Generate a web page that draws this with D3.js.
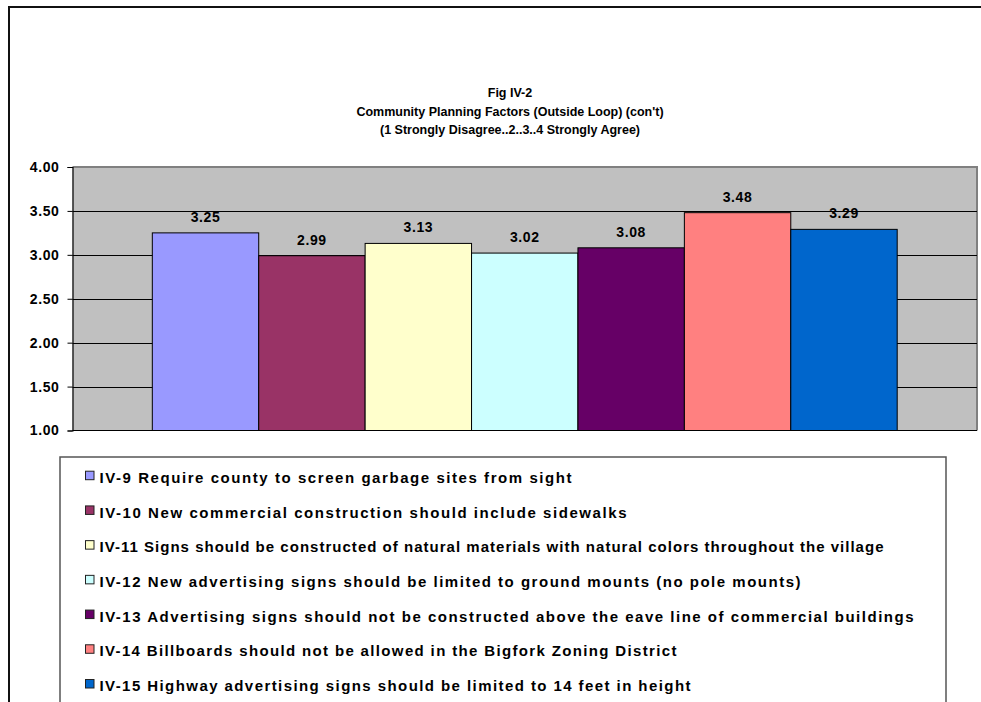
<!DOCTYPE html>
<html><head><meta charset="utf-8">
<script src="https://cdn.jsdelivr.net/npm/d3@7"></script>
<style>body{margin:0;background:#fff;}svg{display:block;font-family:"Liberation Sans",Arial,sans-serif;}</style>
</head><body>
<script>
const categories = ["IV-9","IV-10","IV-11","IV-12","IV-13","IV-14","IV-15"];
const values = [3.25, 2.99, 3.13, 3.02, 3.08, 3.48, 3.29];
const legendLabels = [
  "IV-9 Require county to screen garbage sites from sight",
  "IV-10 New commercial construction should include sidewalks",
  "IV-11 Signs should be constructed of natural materials with natural colors throughout the village",
  "IV-12 New advertising signs should be limited to ground mounts (no pole mounts)",
  "IV-13 Advertising signs should not be constructed above the eave line of commercial buildings",
  "IV-14 Billboards should not be allowed in the Bigfork Zoning District",
  "IV-15 Highway advertising signs should be limited to 14 feet in height"
];
const colors = ["#9999FF","#993366","#FFFFCC","#CCFFFF","#660066","#FF8080","#0066CC"];
const yTicks = [1.00,1.50,2.00,2.50,3.00,3.50,4.00];
const titleLines = ["Fig IV-2","Community Planning Factors (Outside Loop) (con't)","(1 Strongly Disagree..2..3..4 Strongly Agree)"];

// layout only: rendered legend text lengths in px (matches the original's glyph spacing)
const legendTextLayout = { widths: [472, 527, 784, 701, 814, 577, 591] };

const W = 981, H = 702;
const svg = d3.select("body").append("svg").attr("width", W).attr("height", H);

// outer chart border
svg.append("path").attr("d", `M9,${H} L9,7 L${W},7`).attr("fill","none").attr("stroke","#111").attr("stroke-width",2);

// titles
const tY = [97, 116, 134];
titleLines.forEach((t,i)=>{
  svg.append("text").attr("x", 510).attr("y", tY[i]).attr("text-anchor","middle")
    .attr("font-size", 12.5).attr("font-weight","bold").text(t);
});

const pl = 72.5, pr = 977, pt = 167, pb = 430.5;
const x = d3.scaleBand().domain(categories).range([pl, pr]).paddingOuter(0.75).paddingInner(0);
const y = d3.scaleLinear().domain([1,4]).range([pb, pt]);

// plot background
svg.append("rect").attr("x", pl).attr("y", pt).attr("width", pr-pl).attr("height", pb-pt).attr("fill","#C0C0C0");
svg.append("path").attr("d", `M${pl},${pt} L${pr},${pt} L${pr},${pb}`).attr("fill","none").attr("stroke","#808080").attr("stroke-width",2);

// gridlines
svg.append("g").selectAll("line").data(yTicks.filter(v=>v>1 && v<4)).join("line")
  .attr("x1", pl).attr("x2", pr).attr("y1", d=>Math.round(y(d))+0.5).attr("y2", d=>Math.round(y(d))+0.5)
  .attr("stroke","#000").attr("stroke-width",1);

// bars
svg.append("g").selectAll("rect").data(values).join("rect")
  .attr("x", (d,i)=>x(categories[i])).attr("width", x.bandwidth())
  .attr("y", d=>y(d)).attr("height", d=>pb - y(d))
  .attr("fill", (d,i)=>colors[i]).attr("stroke","#000").attr("stroke-width",1);

// value labels
svg.append("g").selectAll("text").data(values).join("text")
  .attr("x", (d,i)=>x(categories[i]) + x.bandwidth()/2).attr("y", d=>y(d)-11)
  .attr("text-anchor","middle").attr("font-size",14).attr("font-weight","bold").attr("letter-spacing",0.6)
  .text(d=>d.toFixed(2));

// y axis
const yAxis = d3.axisLeft(y).tickValues(yTicks).tickFormat(d3.format(".2f")).tickSize(5).tickPadding(8);
const ya = svg.append("g").attr("transform", `translate(${pl},0)`).call(yAxis);
ya.select(".domain").attr("stroke","#000").attr("stroke-width",1.2);
ya.selectAll(".tick line").attr("stroke","#000");
ya.selectAll("text").attr("font-size",14).attr("font-weight","bold").attr("fill","#000").attr("letter-spacing",0.6)
  .attr("font-family",'"Liberation Sans",Arial,sans-serif');
svg.append("line").attr("x1", pl).attr("x2", pr).attr("y1", pb).attr("y2", pb).attr("stroke","#000").attr("stroke-width",1.2);

// legend
const lg = svg.append("g");
lg.append("path").attr("d", `M60,${H+2} L60,457 L946,457 L946,${H+2}`).attr("fill","#fff").attr("stroke","#555").attr("stroke-width",1.5);
const rowY = d3.scaleLinear().domain([0,6]).range([477.7, 686]);
legendLabels.forEach((t,i)=>{
  lg.append("rect").attr("x",85.5).attr("y", rowY(i)-6.5).attr("width",8.5).attr("height",8.5)
    .attr("fill", colors[i]).attr("stroke","#222").attr("stroke-width",1);
  lg.append("text").attr("x",99.5).attr("y", rowY(i)+5.2).attr("font-size",15).attr("font-weight","bold")
    .attr("textLength", legendTextLayout.widths[i]).attr("lengthAdjust","spacing").text(t);
});
</script>
</body></html>
